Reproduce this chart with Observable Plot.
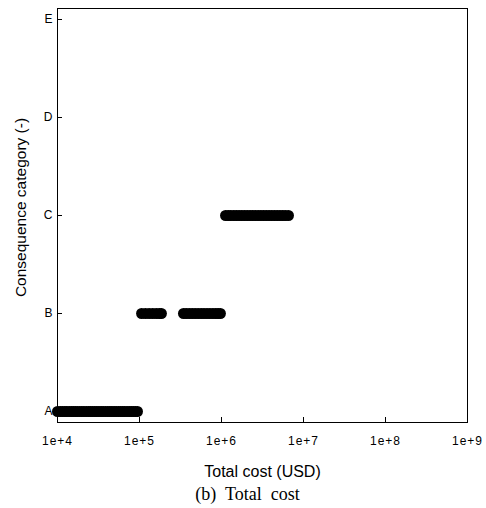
<!DOCTYPE html>
<html>
<head>
<meta charset="utf-8">
<script src="https://cdn.jsdelivr.net/npm/d3@7"></script>
<script src="https://cdn.jsdelivr.net/npm/@observablehq/plot@0.6"></script>
<style>
  html, body { margin: 0; padding: 0; background: #fff; }
  #chart svg { display: block; }
  #chart g[aria-label="x-axis tick label"] text { letter-spacing: 1px; }
  #caption { font-family: "Liberation Serif", "Times New Roman", serif; font-size: 18px; white-space: pre; width: 495px; text-align: center; line-height: 20px; color: #000; }
</style>
</head>
<body>
<div id="chart"></div>
<div id="caption">(b)  Total  cost</div>
<script>
const categories = ["A", "B", "C", "D", "E"];
const xTicks = [1e4, 1e5, 1e6, 1e7, 1e8, 1e9];
const xTickLabels = ["1e+4", "1e+5", "1e+6", "1e+7", "1e+8", "1e+9"];

const costsA = [10000, 10800, 11500, 12300, 13000, 13900, 14800, 15600, 16500, 17400, 18600, 19800, 21000, 22500, 24000, 25300, 26800, 28500, 30200, 32000, 34100, 36000, 38500, 41000, 43500, 46000, 49000, 52000, 55500, 59000, 62500, 66000, 70500, 75000, 79500, 84000, 89000, 94500];
const costsB = [106000, 118000, 131000, 145000, 160000, 175000, 185000, 344000, 372000, 405000, 440000, 478000, 520000, 565000, 612000, 665000, 722000, 785000, 850000, 910000, 970000];
const costsC = [1120000, 1210000, 1300000, 1410000, 1520000, 1640000, 1770000, 1910000, 2060000, 2230000, 2400000, 2590000, 2800000, 3020000, 3260000, 3520000, 3800000, 4100000, 4430000, 4780000, 5160000, 5570000, 6010000, 6560000];

const rows = [
  ...costsA.map(c => ({cost: c, category: "A"})),
  ...costsB.map(c => ({cost: c, category: "B"})),
  ...costsC.map(c => ({cost: c, category: "C"}))
];

const chart = Plot.plot({
  width: 486,
  height: 484,
  marginLeft: 57,
  marginRight: 19,
  marginTop: 8,
  marginBottom: 62,
  style: {fontFamily: "'Liberation Sans', Arial, sans-serif", color: "#000", background: "#fff"},
  x: {type: "log", domain: [1e4, 1e9]},
  y: {type: "point", domain: categories, reverse: true, padding: 0.1},
  marks: [
    Plot.frame({stroke: "#000", strokeWidth: 1}),
    Plot.dot(rows, {x: "cost", y: "category", r: 5.5, fill: "#000", stroke: "none"}),
    Plot.axisX({ticks: xTicks, tickFormat: d => xTickLabels[xTicks.indexOf(d)], tickSize: -5, tickPadding: 19, fontSize: 12, label: null}),
    Plot.axisY({tickSize: -5, tickPadding: 10, fontSize: 12, label: null}),
    Plot.text(["Total cost (USD)"], {frameAnchor: "bottom", dy: 49, lineAnchor: "middle", textAnchor: "middle", fontSize: 16, fill: "#000"}),
    Plot.text(["Consequence category (-)"], {frameAnchor: "left", dx: -36, dy: -8, rotate: -90, lineAnchor: "middle", textAnchor: "middle", fontSize: 15.5, fill: "#000"})
  ]
});
document.getElementById("chart").appendChild(chart);
</script>
</body>
</html>
